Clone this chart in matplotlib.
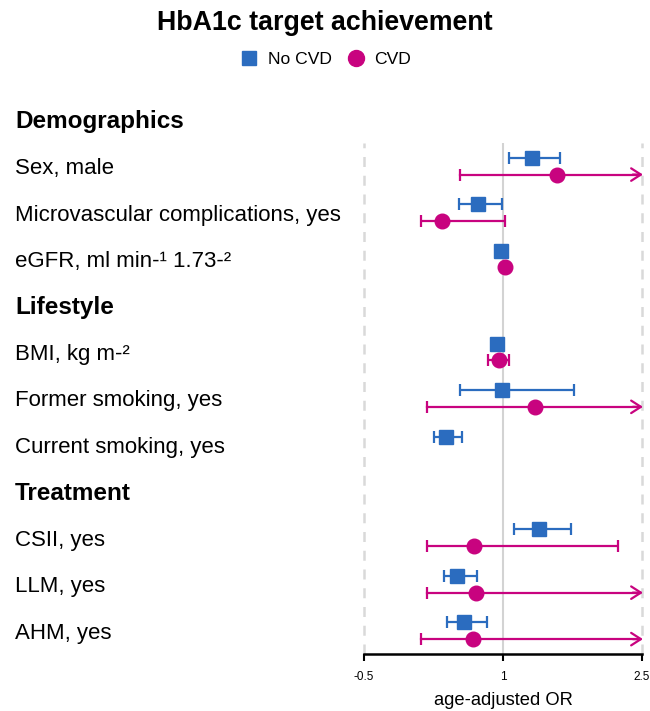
import numpy as np
import matplotlib
matplotlib.use("Agg")
import matplotlib.pyplot as plt
import matplotlib.transforms as mtrans

plt.rcParams['font.family'] = ['Liberation Sans', 'DejaVu Sans']

# rows (headers have no values)
rows = ["Demographics", "Sex, male", "Microvascular complications, yes",
        "eGFR, ml min-¹ 1.73-²", "Lifestyle", "BMI, kg m-²",
        "Former smoking, yes", "Current smoking, yes", "Treatment",
        "CSII, yes", "LLM, yes", "AHM, yes"]
headers = ["Demographics", "Lifestyle", "Treatment"]

# No CVD
nocvd_or = [np.nan, 1.31, 0.73, 0.98, np.nan, 0.94, 0.99, 0.38, np.nan, 1.39, 0.50, 0.58]
nocvd_lo = [np.nan, 1.07, 0.53, 0.97, np.nan, 0.93, 0.54, 0.25, np.nan, 1.12, 0.36, 0.40]
nocvd_hi = [np.nan, 1.62, 0.99, 0.99, np.nan, 0.95, 1.77, 0.56, np.nan, 1.73, 0.72, 0.83]
# CVD
cvd_or = [np.nan, 1.58, 0.34, 1.02, np.nan, 0.96, 1.34, np.nan, np.nan, 0.69, 0.71, 0.68]
cvd_lo = [np.nan, 0.54, 0.11, 1.01, np.nan, 0.84, 0.18, np.nan, np.nan, 0.18, 0.18, 0.12]
cvd_hi = [np.nan, 3.20, 1.02, 1.03, np.nan, 1.07, 3.40, np.nan, np.nan, 2.24, 3.10, 3.30]

xmin, xmax = -0.5, 2.5
blue = "#2b6cbf"
pink = "#c8037f"

fig = plt.figure(figsize=(6.5, 7.11), dpi=100)
ax = fig.add_axes([0.56, 0.0802, 0.4277, 0.7187])
ax.set_xlim(xmin, xmax)
ax.set_ylim(len(rows) - 0.5, 0.5)

ax.axvline(1, color="#d3d3d3", lw=1.5, zorder=0)
for xv in (xmin, xmax):
    ax.axvline(xv, color="#d9d9d9", lw=1.8, ls=(0, (4, 3.5)), zorder=0, clip_on=False)

def draw(ors, los, his, dy, color, marker):
    for i in range(len(rows)):
        if np.isnan(ors[i]):
            continue
        y = i + dy
        if his[i] > xmax:
            # CI runs past the axis: cap on the left, open arrow on the right
            ax.plot([los[i], xmax - 0.02], [y, y], color=color, lw=1.6, clip_on=False)
            ax.plot(los[i], y, marker="|", ms=9, mew=1.6, color=color)
            ax.annotate("", xy=(xmax + 0.01, y), xytext=(xmax - 0.1, y),
                        arrowprops=dict(arrowstyle="->,head_length=0.7,head_width=0.45",
                                        color=color, lw=1.6, shrinkA=0, shrinkB=0),
                        annotation_clip=False)
        elif his[i] - los[i] > 0.05:
            ax.errorbar(ors[i], y, xerr=[[ors[i] - los[i]], [his[i] - ors[i]]],
                        fmt="none", ecolor=color, elinewidth=1.6, capsize=4.5, capthick=1.6)
        ax.plot(ors[i], y, marker=marker, ms=10.5 if marker == "o" else 10, color=color,
                ls="none", zorder=5, clip_on=False)

draw(nocvd_or, nocvd_lo, nocvd_hi, -0.18, blue, "s")
draw(cvd_or, cvd_lo, cvd_hi, 0.18, pink, "o")

lbl_tr = mtrans.blended_transform_factory(fig.transFigure, ax.transData)
for i, r in enumerate(rows):
    fs = 17.5 if r in headers else 16
    tr = mtrans.offset_copy(lbl_tr, fig=fig, y=-0.716 * fs / 2, units="points")
    ax.text(15 / 650, i, r, transform=tr, clip_on=False, fontsize=fs,
            fontweight="bold" if r in headers else "normal", va="baseline", ha="left")

for s in ("top", "right", "left"):
    ax.spines[s].set_visible(False)
ax.spines["bottom"].set_linewidth(1.8)
ax.set_yticks([])
ax.set_xticks([-0.5, 1, 2.5])
ax.set_xticklabels(["-0.5", "1", "2.5"], fontsize=8.5)
ax.tick_params(axis="x", length=5, width=1.5, pad=7)
ax.set_xlabel("age-adjusted OR", fontsize=13.2, labelpad=7)

fig.text(0.5, 1 - 23 / 711, "HbA1c target achievement", ha="center", va="center",
         fontsize=19.3, fontweight="bold")
h1, = ax.plot([], [], marker="s", ls="none", color=blue, ms=10.5)
h2, = ax.plot([], [], marker="o", ls="none", color=pink, ms=11.5)
fig.legend([h1, h2], ["No CVD", "CVD"], loc="center", bbox_to_anchor=(0.5, 1 - 59 / 711),
           ncol=2, frameon=False, fontsize=12.6, handletextpad=0.45, columnspacing=0.8,
           handlelength=1.2)

fig.savefig("out.png", dpi=100)
